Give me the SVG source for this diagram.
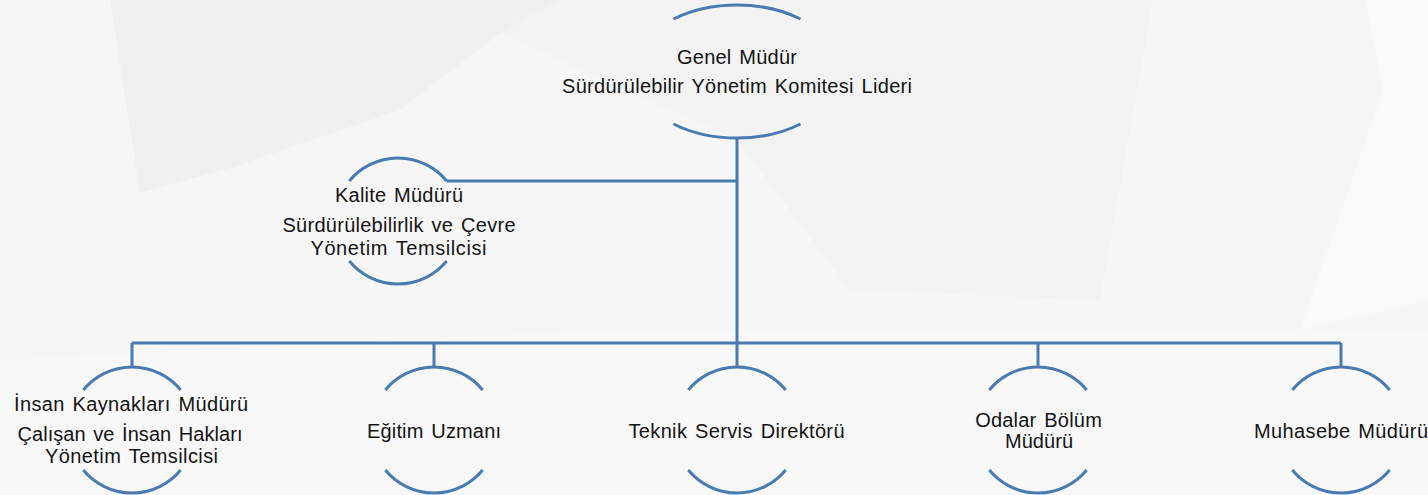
<svg xmlns="http://www.w3.org/2000/svg" width="1428" height="495" viewBox="0 0 1428 495">
<style>
.arc{fill:none;stroke:#4a7bb0;stroke-width:3;stroke-linecap:butt}
.con{fill:none;stroke:#4a7bb0;stroke-width:3}
.t{font-family:"Liberation Sans",Arial,sans-serif;font-size:20px;fill:#141414;text-anchor:middle;word-spacing:2px}
</style>
<g id="background">
<rect x="0" y="0" width="1428" height="495" fill="#f6f6f6"/>
<polygon points="110,0 560,0 500,33 400,110 233,167 140,193" fill="#f0f0f0"/>
<polygon points="560,0 1153,0 1100,300 850,290 737,140 500,33" fill="#f3f3f3"/>
<polygon points="1365,0 1428,0 1428,300 1300,330 1383,90" fill="#f9f9f9"/>
<polygon points="0,360 600,330 1428,330 1428,495 0,495" fill="#f8f8f8"/>
</g>
<g id="connectors">
<path class="con" d="M737,138 V343"/>
<path class="con" d="M446.7,181 H737"/>
<path class="con" d="M132,343 H1341"/>
<path class="con" d="M132,343 V367 M434,343 V367 M737,343 V367 M1038,343 V367 M1341,343 V367"/>
</g>
<g id="node-genel-mudur">
<path class="arc" d="M673.5,19 A103.4,66.5 0 0 1 800.5,19"/>
<path class="arc" d="M673.5,124 A103.4,66.5 0 0 0 800.5,124"/>
<text class="t" x="737" y="64" textLength="120" lengthAdjust="spacing">Genel Müdür</text>
<text class="t" x="737" y="93" textLength="350" lengthAdjust="spacing">Sürdürülebilir Yönetim Komitesi Lideri</text>
</g>
<g id="node-kalite">
<path class="arc" d="M349.3,181 A63,63 0 0 1 446.7,181"/>
<path class="arc" d="M349.3,261 A63,63 0 0 0 446.7,261"/>
<text class="t" x="399" y="201.7" textLength="128" lengthAdjust="spacing">Kalite Müdürü</text>
<text class="t" x="399" y="231.7" textLength="233" lengthAdjust="spacing">Sürdürülebilirlik ve Çevre</text>
<text class="t" x="398.5" y="255" textLength="176" lengthAdjust="spacing">Yönetim Temsilcisi</text>
</g>
<g id="node-insan-kaynaklari">
<path class="arc" d="M83.3,390 A63,63 0 0 1 180.7,390"/>
<path class="arc" d="M83.3,470 A63,63 0 0 0 180.7,470"/>
<text class="t" x="131" y="410.7" textLength="234" lengthAdjust="spacing">İnsan Kaynakları Müdürü</text>
<text class="t" x="130" y="440.5" textLength="225" lengthAdjust="spacing">Çalışan ve İnsan Hakları</text>
<text class="t" x="131.5" y="463" textLength="173" lengthAdjust="spacing">Yönetim Temsilcisi</text>
</g>
<g id="node-egitim">
<path class="arc" d="M385.3,390 A63,63 0 0 1 482.7,390"/>
<path class="arc" d="M385.3,470 A63,63 0 0 0 482.7,470"/>
<text class="t" x="434" y="438" textLength="134" lengthAdjust="spacing">Eğitim Uzmanı</text>
</g>
<g id="node-teknik">
<path class="arc" d="M688.3,390 A63,63 0 0 1 785.7,390"/>
<path class="arc" d="M688.3,470 A63,63 0 0 0 785.7,470"/>
<text class="t" x="736.5" y="438" textLength="216" lengthAdjust="spacing">Teknik Servis Direktörü</text>
</g>
<g id="node-odalar">
<path class="arc" d="M989.3,390 A63,63 0 0 1 1086.7,390"/>
<path class="arc" d="M989.3,470 A63,63 0 0 0 1086.7,470"/>
<text class="t" x="1038.5" y="426.7" textLength="126.7" lengthAdjust="spacing">Odalar Bölüm</text>
<text class="t" x="1039" y="448.3" textLength="68" lengthAdjust="spacing">Müdürü</text>
</g>
<g id="node-muhasebe">
<path class="arc" d="M1292.3,390 A63,63 0 0 1 1389.7,390"/>
<path class="arc" d="M1292.3,470 A63,63 0 0 0 1389.7,470"/>
<text class="t" x="1341" y="437.5" textLength="174" lengthAdjust="spacing">Muhasebe Müdürü</text>
</g>
</svg>
